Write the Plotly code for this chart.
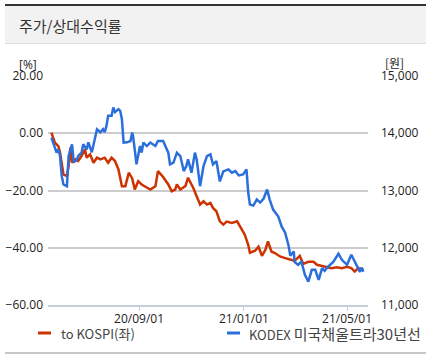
import plotly.graph_objects as go

# ---- data ----
kospi_dates = ["2020-05-22","2020-05-26","2020-05-30","2020-06-01","2020-06-05","2020-06-09","2020-06-11","2020-06-13",
 "2020-06-15","2020-06-19","2020-06-22","2020-06-26","2020-06-30","2020-07-02","2020-07-06","2020-07-10","2020-07-14",
 "2020-07-18","2020-07-23","2020-07-27","2020-07-31","2020-08-04","2020-08-08","2020-08-12","2020-08-16","2020-08-20",
 "2020-08-24","2020-08-27","2020-08-31","2020-09-04","2020-09-10","2020-09-14","2020-09-20","2020-09-23","2020-09-29",
 "2020-10-05","2020-10-09","2020-10-13","2020-10-15","2020-10-19","2020-10-25","2020-10-28","2020-11-01","2020-11-03",
 "2020-11-07","2020-11-11","2020-11-15","2020-11-19","2020-11-23","2020-11-26","2020-11-30","2020-12-04","2020-12-08",
 "2020-12-12","2020-12-18","2020-12-24","2020-12-28","2021-01-02","2021-01-06","2021-01-08","2021-01-14","2021-01-18",
 "2021-01-22","2021-01-26","2021-01-29","2021-02-02","2021-02-06","2021-02-12","2021-02-18","2021-02-24","2021-03-01",
 "2021-03-07","2021-03-11","2021-03-17","2021-03-23","2021-03-27","2021-04-02","2021-04-07","2021-04-13","2021-04-19",
 "2021-04-25","2021-05-01","2021-05-06","2021-05-10","2021-05-14","2021-05-18","2021-05-20"]
kospi_rel = [0.25,-3.26,-4.46,-6.77,-14.39,-14.98,-11.47,-5.02,
 -10.28,-9.12,-9.72,-7.96,-5.61,-8.53,-7.37,-10.28,-8.53,
 -9.12,-8.53,-10.28,-8.53,-9.72,-12.63,-18.49,-18.49,-13.79,
 -15.79,-19.65,-16.74,-17.89,-18.95,-19.65,-18.49,-13.23,-15.26,
 -17.89,-20.25,-19.65,-17.89,-19.65,-18.42,-15.54,-17.89,-19.05,
 -22.00,-24.91,-23.75,-24.91,-24.32,-26.07,-27.26,-30.77,-31.93,
 -30.88,-31.33,-30.77,-32.81,-35.44,-38.95,-41.75,-41.05,-39.65,
 -42.81,-40.70,-37.79,-41.30,-41.86,-43.05,-43.61,-44.21,-44.56,
 -42.81,-45.61,-44.91,-44.91,-45.96,-46.32,-46.84,-47.12,-46.84,
 -47.12,-46.67,-47.12,-48.32,-47.12,-47.37,-47.72]

etf_dates = ["2020-05-22","2020-05-28","2020-05-30","2020-06-01","2020-06-03","2020-06-05","2020-06-09","2020-06-11",
 "2020-06-15","2020-06-17","2020-06-21","2020-06-22","2020-06-26","2020-06-28","2020-07-02","2020-07-04","2020-07-08",
 "2020-07-12","2020-07-14","2020-07-18","2020-07-21","2020-07-23","2020-07-25","2020-07-27","2020-07-31","2020-08-02",
 "2020-08-04","2020-08-08","2020-08-10","2020-08-12","2020-08-14","2020-08-18","2020-08-22","2020-08-24","2020-08-25",
 "2020-08-29","2020-09-02","2020-09-04","2020-09-06","2020-09-10","2020-09-14","2020-09-20","2020-09-23","2020-09-29",
 "2020-10-05","2020-10-07","2020-10-11","2020-10-15","2020-10-19","2020-10-23","2020-10-26","2020-10-28","2020-11-01",
 "2020-11-05","2020-11-07","2020-11-11","2020-11-15","2020-11-19","2020-11-23","2020-11-26","2020-11-30","2020-12-04",
 "2020-12-08","2020-12-14","2020-12-18","2020-12-22","2020-12-26","2020-12-31","2021-01-04","2021-01-06","2021-01-08",
 "2021-01-12","2021-01-16","2021-01-20","2021-01-24","2021-01-28","2021-01-31","2021-02-04","2021-02-10","2021-02-14",
 "2021-02-18","2021-02-22","2021-02-24","2021-02-28","2021-03-01","2021-03-05","2021-03-09","2021-03-13","2021-03-17",
 "2021-03-21","2021-03-25","2021-03-29","2021-04-02","2021-04-05","2021-04-09","2021-04-15","2021-04-21","2021-04-25",
 "2021-05-01","2021-05-06","2021-05-12","2021-05-16","2021-05-18","2021-05-20"]
etf_price = [13925,13661,13719,13602,13251,13105,13075,13602,
 13807,13491,13544,13602,13661,13807,13719,13842,13667,
 13953,14070,14018,14070,14018,14128,14304,14304,14451,
 14368,14421,14391,14246,13837,13842,13865,14012,13953,
 13456,13777,13661,13837,13777,13837,13777,13865,13865,
 13661,13456,13486,13661,13602,13339,13426,13544,13311,
 13661,13544,13075,13426,13602,13632,13456,13514,13158,
 13333,13368,13311,13339,13263,13281,13368,12965,12754,
 12737,12842,12789,12860,13018,12842,12667,12544,12368,
 12263,12035,11860,11935,11754,11702,11754,11526,11409,
 11614,11614,11439,11644,11596,11672,11754,11895,11789,
 11702,11877,11684,11579,11649,11579]

x_ticks = ["2020-09-01", "2021-01-01", "2021-05-01"]
y_left_ticks = [20, 0, -20, -40, -60]
y_right_ticks = [15000, 14000, 13000, 12000, 11000]

name_kospi = "to KOSPI(좌)"
name_etf_a = "KODEX"
name_etf_b = "미국채울트라30년선"
title = "주가/상대수익률"

# ---- layout geometry (pixels) ----
W, H = 440, 360
ML, MR, MT, MB = 48, 72, 76, 55
PW, PH = W - ML - MR, H - MT - MB

def fx(p):
    return (p - ML) / PW

def fy(p):
    return (H - MB - p) / PH

RED = "#cc3300"
BLUE = "#2b6fdc"
FONT = "Noto Sans CJK KR"
NUMFONT = "Open Sans"

fig = go.Figure()
fig.add_trace(go.Scatter(x=kospi_dates, y=kospi_rel, mode="lines", name=name_kospi,
                         line=dict(color=RED, width=2.5), yaxis="y"))
fig.add_trace(go.Scatter(x=etf_dates, y=etf_price, mode="lines", name=name_etf_a + " " + name_etf_b,
                         line=dict(color=BLUE, width=2.5), yaxis="y2"))

shapes = [
    dict(type="rect", xref="paper", yref="paper", x0=fx(5), x1=fx(426), y0=fy(43), y1=fy(5),
         fillcolor="#f2f2f2", line=dict(width=0), layer="below"),
    dict(type="line", xref="paper", yref="paper", x0=fx(5), x1=fx(426), y0=fy(5), y1=fy(5),
         line=dict(color="#333333", width=2)),
    dict(type="line", xref="paper", yref="paper", x0=fx(5), x1=fx(426), y0=fy(43.5), y1=fy(43.5),
         line=dict(color="#dcdcdc", width=1)),
    dict(type="line", xref="paper", yref="paper", x0=fx(5), x1=fx(426), y0=fy(353), y1=fy(353),
         line=dict(color="#c8c8c8", width=2)),
    dict(type="line", xref="paper", yref="paper", x0=fx(38), x1=fx(51), y0=fy(333), y1=fy(333),
         line=dict(color=RED, width=3)),
    dict(type="line", xref="paper", yref="paper", x0=fx(227), x1=fx(240), y0=fy(333), y1=fy(333),
         line=dict(color=BLUE, width=3)),
]

annotations = [
    dict(text=title, xref="paper", yref="paper", x=fx(17), y=fy(26), xanchor="left", yanchor="middle",
         showarrow=False, font=dict(family=FONT, size=15, color="#333333")),
    dict(text="[%]", xref="paper", yref="paper", x=fx(39), y=fy(64), xanchor="right", yanchor="middle",
         showarrow=False, font=dict(family=NUMFONT, size=12, color="#222222")),
    dict(text="[원]", xref="paper", yref="paper", x=fx(383), y=fy(63), xanchor="left", yanchor="middle",
         showarrow=False, font=dict(family=FONT, size=12, color="#222222")),
    dict(text=name_kospi, xref="paper", yref="paper", x=fx(59), y=fy(333), xanchor="left", yanchor="middle",
         showarrow=False, font=dict(family=FONT, size=13, color="#444444")),
    dict(text=name_etf_a + " <span style='font-size:15px'>" + name_etf_b + "</span>",
         xref="paper", yref="paper", x=fx(247), y=fy(333), xanchor="left", yanchor="middle",
         showarrow=False, font=dict(family=FONT, size=13, color="#444444")),
]

fig.update_layout(
    width=W, height=H,
    margin=dict(l=ML, r=MR, t=MT, b=MB, pad=0, autoexpand=False),
    paper_bgcolor="white", plot_bgcolor="white",
    showlegend=False,
    font=dict(family=NUMFONT, size=12, color="#222222"),
    shapes=shapes, annotations=annotations,
    xaxis=dict(type="date", range=["2020-05-18", "2021-05-25 10:00"], automargin=False,
               tickvals=x_ticks, tickformat="%y/%m/%d",
               ticks="outside", ticklen=4, tickcolor="#c5d0dc", tickwidth=1,
               showline=True, linecolor="#c5d0dc", linewidth=1.5,
               showgrid=False, zeroline=False, ticklabelstandoff=-2,
               tickfont=dict(family=NUMFONT, size=12, color="#222222")),
    yaxis=dict(range=[-60, 20], tickvals=y_left_ticks, tickformat=".2f", automargin=False,
               showgrid=True, gridcolor="#cccccc", gridwidth=1.5, zeroline=False,
               ticks="", showline=False, ticklabelstandoff=4,
               tickfont=dict(family=NUMFONT, size=12, color="#222222")),
    yaxis2=dict(range=[11000, 15000], tickvals=y_right_ticks, tickformat=",", automargin=False,
                overlaying="y", side="right", showgrid=False, zeroline=False,
                ticks="", showline=False, ticklabelstandoff=12,
                tickfont=dict(family=NUMFONT, size=12, color="#222222")),
)

fig.write_html("out.html", config={"displayModeBar": False},
               post_script="document.body.style.margin='0';document.body.style.padding='0';")
